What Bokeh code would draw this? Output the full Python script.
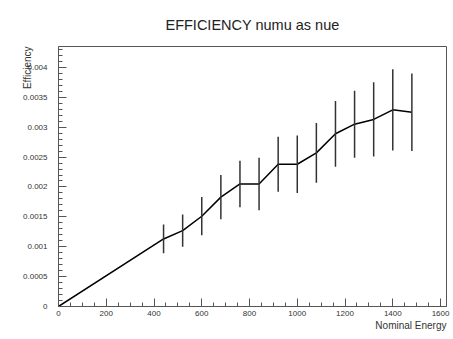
from bokeh.plotting import figure
from bokeh.models import Range1d, SingleIntervalTicker, CustomJSTickFormatter, ColumnDataSource, Title
from bokeh.embed import file_html
from bokeh.resources import INLINE

energy = [0, 440, 520, 600, 680, 760, 840, 920, 1000, 1080, 1160, 1240, 1320, 1400, 1480]
efficiency = [0, 0.00113, 0.00127, 0.00151, 0.00183, 0.00205, 0.00205, 0.00238, 0.00238,
              0.00257, 0.00289, 0.00305, 0.00313, 0.00329, 0.00325]
err = [0, 0.00024, 0.00027, 0.00032, 0.00037, 0.00039, 0.00044, 0.00046, 0.00048,
       0.00050, 0.00055, 0.00056, 0.00062, 0.00068, 0.00065]

title_text = "EFFICIENCY numu as nue"
x_title = "Nominal Energy"
y_title = "Efficiency"

FONT = "Liberation Sans"

p = figure(width=453, height=339, output_backend="svg", toolbar_location=None,
           x_range=Range1d(0, 1625), y_range=Range1d(0, 0.00435),
           min_border_left=58, min_border_right=7, min_border_top=46, min_border_bottom=33)
p.background_fill_color = "white"
p.border_fill_color = "white"
p.outline_line_color = "#555555"
p.outline_line_width = 1
p.xgrid.visible = False
p.ygrid.visible = False

p.title.text = title_text
p.title.align = "center"
p.title.vertical_align = "top"
p.title.text_font = FONT
p.title.text_font_size = "14.5px"
p.title.text_font_style = "normal"
p.title.text_color = "#222222"
p.title.standoff = 24

p.xaxis.ticker = SingleIntervalTicker(interval=200, num_minor_ticks=4)
p.yaxis.ticker = SingleIntervalTicker(interval=0.0005, num_minor_ticks=5)
p.yaxis.formatter = CustomJSTickFormatter(code="return (Math.round(tick*1e5)/1e5).toString();")
for ax in (p.xaxis[0], p.yaxis[0]):
    ax.major_tick_in = 8
    ax.major_tick_out = 0
    ax.minor_tick_in = 4
    ax.minor_tick_out = 0
    ax.axis_line_color = "#555555"
    ax.major_tick_line_color = "#555555"
    ax.minor_tick_line_color = "#555555"
    ax.major_label_text_font = FONT
    ax.major_label_text_font_size = "8px"
    ax.major_label_text_color = "#333333"
p.yaxis.major_label_standoff = 11
p.xaxis.major_label_standoff = 4

p.add_layout(Title(text=x_title, align="right", text_font=FONT, text_font_size="10px",
                   text_font_style="normal", text_color="#333333", standoff=-2), "below")
p.add_layout(Title(text=y_title, align="right", text_font=FONT, text_font_size="10px",
                   text_font_style="normal", text_color="#333333", standoff=-24), "left")

src = ColumnDataSource(dict(x=energy, y=efficiency,
                            lo=[v - e for v, e in zip(efficiency, err)],
                            hi=[v + e for v, e in zip(efficiency, err)]))
p.line("x", "y", source=src, line_color="black", line_width=1.5)
p.segment(x0="x", y0="lo", x1="x", y1="hi", source=src, line_color="#333333", line_width=1.5)

open("out.html", "w").write(file_html(p, INLINE))
